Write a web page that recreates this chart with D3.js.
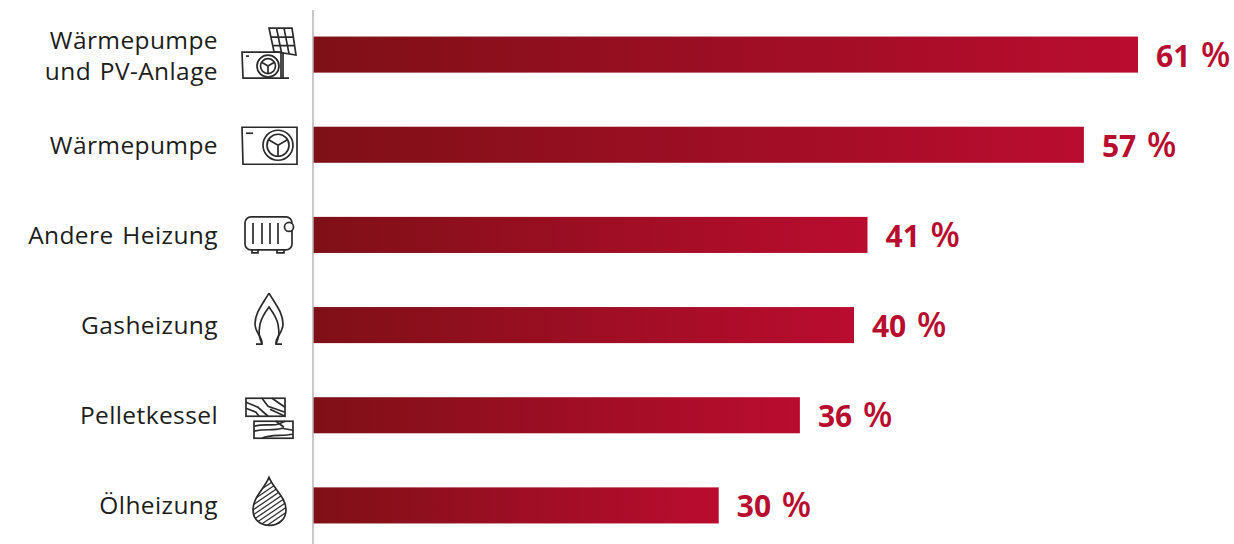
<!DOCTYPE html>
<html lang="de">
<head>
<meta charset="UTF-8">
<title>Heizungen</title>
<style>
    html, body { margin: 0; padding: 0; background: #fff; }
    svg { display: block; }
    .label { font: 400 24.500px "Open Sans", sans-serif; fill: #1d1d1b; text-anchor: end; letter-spacing: 0.4px; word-spacing: 2px; }
    .value { font: 700 30px "Open Sans", sans-serif; fill: #b80d2e; word-spacing: 3px; }
    .value .pct { font-size: 34px; font-weight: 600; }
    .icon path, .icon circle, .icon rect, .icon line { fill: none; stroke: #2b2b2b; stroke-width: 1.7; }
</style>
</head>
<body>
<svg id="chart" width="1234" height="544"></svg>
<script src="https://d3js.org/d3.v7.min.js"></script>
<script>
const categories = ["pv", "wp", "andere", "gas", "pellet", "oel"];
const labels = [["Wärmepumpe", "und PV-Anlage"], ["Wärmepumpe"], ["Andere Heizung"], ["Gasheizung"], ["Pelletkessel"], ["Ölheizung"]];
const values = [61, 57, 41, 40, 36, 30];

const svg = d3.select("#chart");
const x = d3.scaleLinear().domain([0, 61]).range([313, 1138]);
const y = d3.scaleBand().domain(categories).range([9.5, 550.5]).paddingInner(0.6).paddingOuter(0.3);

const grad = svg.append("defs").append("linearGradient").attr("id", "bar");
grad.append("stop").attr("offset", "0%").attr("stop-color", "#7f1017");
grad.append("stop").attr("offset", "100%").attr("stop-color", "#ba0c2f");
svg.select("defs").append("clipPath").attr("id", "drop")
    .append("path").attr("d", "M269,-28C264,-16 253,-8 253,4C253,14 260,20 269.500,20C279,20 286,14 286,4C286,-8 274,-16 269,-28Z");

svg.selectAll(".bar").data(categories).enter().append("rect")
    .attr("class", "bar")
    .attr("x", x(0))
    .attr("y", d => y(d))
    .attr("width", (d, i) => x(values[i]) - x(0))
    .attr("height", y.bandwidth())
    .attr("fill", "url(#bar)");

svg.append("line")
    .attr("x1", 313).attr("x2", 313).attr("y1", 10).attr("y2", 544)
    .attr("stroke", "#b4b4b4").attr("stroke-width", 1.5);

const value = svg.selectAll(".value").data(categories).enter().append("text")
    .attr("class", "value")
    .attr("x", (d, i) => x(values[i]) + 18)
    .attr("y", d => y(d) + y.bandwidth() / 2 + 12);
value.append("tspan").text((d, i) => values[i] + " ");
value.append("tspan").attr("class", "pct").text("%");

const label = svg.selectAll(".label").data(categories).enter().append("text")
    .attr("class", "label")
    .attr("y", d => y(d) + y.bandwidth() / 2 + 9);
label.selectAll("tspan").data((d, i) => labels[i]).enter().append("tspan")
    .attr("x", 218)
    .attr("dy", function (d, i) {
        const n = this.parentNode.__data__ === "pv" ? 2 : 1;
        return i === 0 ? (n === 2 ? -15 : 0) : 31;
    })
    .text(d => d);

function fan(g, cx, cy, r1, r2) {
    g.append("circle").attr("cx", cx).attr("cy", cy).attr("r", r1);
    g.append("circle").attr("cx", cx).attr("cy", cy).attr("r", r2);
    g.append("path").attr("d", `M${cx},${cy}L${cx},${cy + r2}M${cx},${cy}L${cx - r2 * 0.85},${cy - r2 * 0.5}M${cx},${cy}L${cx + r2 * 0.85},${cy - r2 * 0.5}`);
}

const icons = {
    pv(g) {
        g.append("path").attr("d", "M242,-2.500H281V23.500H243Z");
        g.append("path").attr("d", "M246,1.500H249");
        fan(g, 268, 11.500, 11, 7.500);
        g.append("path").attr("d", "M283,-2.500V23.500M281,23.500H289");
        g.append("path").attr("d", "M269,-26.500H292L296,0.500L274,-3ZM276.500,-26.500L281.500,-2M284,-26.500L289,-1M270.700,-17.500H293.300M272.300,-9H294.700");
    },
    wp(g) {
        g.append("path").attr("d", "M242,-17.500H297V19.500H243Z");
        g.append("path").attr("d", "M246,-11.500H253");
        fan(g, 278, 0.500, 15, 11);
    },
    andere(g) {
        g.append("rect").attr("x", 245).attr("y", -18).attr("width", 47).attr("height", 33).attr("rx", 6);
        g.append("path").attr("d", "M253,-12V9M262,-12V9M270,-12V9M278,-12V9");
        g.append("circle").attr("cx", 289).attr("cy", -8).attr("r", 4.500).style("fill", "#fff");
        g.append("path").attr("d", "M252,15V18H258V15M277,15V18H284V15");
    },
    gas(g) {
        g.append("path").attr("d", "M269,-32C262,-20 255,-12 255,-1C255,8 263,12 262,19H256M269,-32C276,-20 283,-12 283,-1C283,8 275,12 276,19H282");
        g.append("path").attr("d", "M262,19C258,10 259,6 260,-1C262,-9 266,-14 269,-18C272,-14 276,-9 278,-1C279,6 280,10 276,19");
    },
    pellet(g) {
        g.append("rect").attr("x", 246).attr("y", -17).attr("width", 39).attr("height", 18);
        g.append("rect").attr("x", 254).attr("y", 6).attr("width", 39).attr("height", 17);
        g.append("path").attr("d", "M246,-13L258,-8L268,1M246,-7L256,-3L259,1M262,-17L268,-9L285,-3M272,-17L285,-8M270,-6L285,1M254,11C266,8 272,11 278,9L285,6M254,16C266,13 272,16 282,13L293,15M262,23C270,19 280,21 293,19M276,6L284,12");
    },
    oel(g) {
        g.append("path").attr("d", "M269,-28C264,-16 253,-8 253,4C253,14 260,20 269.500,20C279,20 286,14 286,4C286,-8 274,-16 269,-28Z");
        const hatch = g.append("g").attr("clip-path", "url(#drop)");
        d3.range(-40, 60, 5).forEach(k => {
            hatch.append("line").attr("x1", 245).attr("y1", k).attr("x2", 295).attr("y2", k - 34).style("stroke-width", 1.2);
        });
    }
};

categories.forEach(c => {
    const g = svg.append("g").attr("class", "icon")
        .attr("transform", `translate(0,${y(c) + y.bandwidth() / 2})`);
    icons[c](g);
});
</script>
</body>
</html>
